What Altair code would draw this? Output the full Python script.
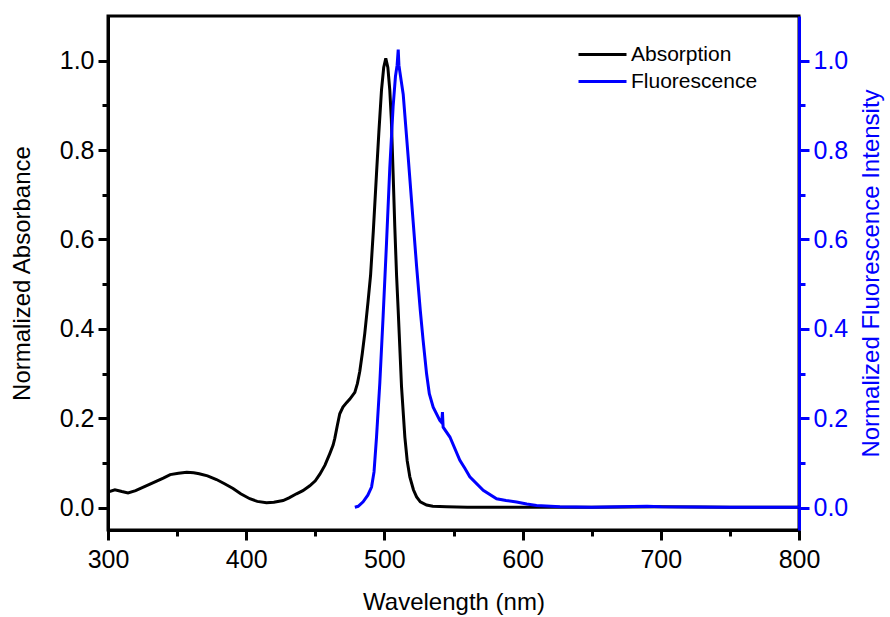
import altair as alt
import pandas as pd

# ---------------- data ----------------
wavelength_abs = [300, 301, 305, 310, 314.5, 320, 330, 340, 345, 351, 357, 362, 366, 372,
                  378.5, 384, 390.5, 396, 402.6, 408, 414.7, 420, 426.7, 431, 436.4, 441,
                  446, 450, 453.3, 457, 460.5, 462.9, 464.1, 466, 467.7, 470, 472.6, 475,
                  478.6, 480.5, 482.2, 484, 485.8, 488.2, 490, 492, 494.3, 496, 497.9,
                  499.5, 501, 502.5, 503.9, 505, 506.3, 507.5, 508.8, 510, 512.4, 514.8,
                  516.5, 518.4, 521, 523.3, 526, 530.5, 535, 545, 560, 580, 600, 650, 700,
                  750, 800]
absorbance = [0.033, 0.036, 0.040, 0.036, 0.033, 0.038, 0.052, 0.066, 0.074, 0.077, 0.079,
              0.078, 0.076, 0.071, 0.063, 0.054, 0.043, 0.031, 0.020, 0.014, 0.011, 0.012,
              0.016, 0.022, 0.031, 0.038, 0.049, 0.060, 0.075, 0.095, 0.121, 0.140, 0.155,
              0.185, 0.210, 0.225, 0.235, 0.243, 0.258, 0.278, 0.305, 0.345, 0.390, 0.462,
              0.520, 0.620, 0.748, 0.840, 0.934, 0.985, 1.005, 0.985, 0.934, 0.870, 0.748,
              0.630, 0.520, 0.440, 0.270, 0.158, 0.105, 0.069, 0.040, 0.024, 0.013, 0.006,
              0.003, 0.002, 0.001, 0.001, 0.001, 0.001, 0.002, 0.001, 0.001]

wavelength_fl = [478.6, 481, 484.6, 488, 490.7, 492.5, 494.3, 496.7, 499.1, 501.5, 503.9,
                 506.3, 508, 509.2, 510, 510.5, 511.2, 513.6, 517.2, 520.8, 523.3, 526, 528,
                 530.5, 532.5, 535.3, 540.1, 541.5, 542, 542.5, 547.4, 554.6, 558.2, 561.8,
                 571.5, 581.2, 588, 595.6, 603, 610.1, 627, 650, 690, 700, 750, 800]
fluorescence = [0.001, 0.003, 0.013, 0.028, 0.046, 0.080, 0.158, 0.280, 0.430, 0.590, 0.760,
                0.897, 0.965, 0.990, 1.025, 0.990, 0.975, 0.925, 0.785, 0.640, 0.540, 0.440,
                0.375, 0.300, 0.255, 0.225, 0.195, 0.190, 0.214, 0.180, 0.158, 0.106, 0.088,
                0.069, 0.039, 0.020, 0.016, 0.0125, 0.008, 0.005, 0.002, 0.001, 0.003, 0.002,
                0.001, 0.001]

series_names = ["Absorption", "Fluorescence"]
series_colors = ["#000000", "#0000FF"]
x_ticks = [300, 350, 400, 450, 500, 550, 600, 650, 700, 750, 800]
y_ticks = [0.0, 0.1, 0.2, 0.3, 0.4, 0.5, 0.6, 0.7, 0.8, 0.9, 1.0]

FONT = "Liberation Sans"
BLUE = "#0000FF"

df_abs = pd.DataFrame({"wavelength": wavelength_abs, "value": absorbance,
                       "series": series_names[0]})
df_fl = pd.DataFrame({"wavelength": wavelength_fl, "value": fluorescence,
                      "series": series_names[1]})

x_enc = alt.X(
    "wavelength:Q",
    scale=alt.Scale(domain=[300, 800], nice=False, zero=False),
    axis=alt.Axis(
        title="Wavelength (nm)",
        values=x_ticks,
        labelExpr="datum.value % 100 == 0 ? datum.label : ''",
        tickSize={"condition": {"test": "datum.value % 100 == 0", "value": 10}, "value": 6},
        labelFlush=False,
        labelOverlap=False,
        labelPadding=7,
        titlePadding=18,
    ),
)

major_y = "round(datum.value * 10) % 2 == 0"
y_label_expr = f"{major_y} ? format(datum.value, '.1f') : ''"
y_scale = alt.Scale(domain=[-0.05, 1.1], nice=False, zero=False)

color_enc = alt.Color(
    "series:N",
    scale=alt.Scale(domain=series_names, range=series_colors),
    legend=alt.Legend(
        title=None,
        orient="none",
        legendX=484,
        legendY=28,
        symbolType="M-4,0H4",
        symbolSize=144,
        symbolStrokeWidth=3,
        labelFont=FONT,
        labelFontSize=21,
        labelColor="black",
        labelOffset=18,
        rowPadding=5,
        padding=0,
    ),
)

abs_line = alt.Chart(df_abs).mark_line(strokeWidth=3).encode(
    x=x_enc,
    y=alt.Y(
        "value:Q",
        scale=y_scale,
        axis=alt.Axis(
            orient="left",
            title="Normalized Absorbance",
            values=y_ticks,
            labelExpr=y_label_expr,
            tickSize={"condition": {"test": major_y, "value": 10}, "value": 6},
            labelOverlap=False,
            labelPadding=4,
            titlePadding=25,
        ),
    ),
    color=color_enc,
)

fl_line = alt.Chart(df_fl).mark_line(strokeWidth=3).encode(
    x=x_enc,
    y=alt.Y(
        "value:Q",
        scale=y_scale,
        axis=alt.Axis(
            orient="right",
            title="Normalized Fluorescence Intensity",
            values=y_ticks,
            labelExpr=y_label_expr,
            tickSize={"condition": {"test": major_y, "value": 10}, "value": 6},
            labelOverlap=False,
            labelPadding=4,
            titlePadding=12,
            titleAngle=270,
            titleBaseline="top",
            domainColor=BLUE,
            tickColor=BLUE,
            labelColor=BLUE,
            titleColor=BLUE,
        ),
    ),
    color=color_enc,
)

chart = (
    alt.layer(abs_line, fl_line)
    .resolve_scale(y="independent")
    .properties(
        width=691,
        height=514,
        autosize=alt.AutoSizeParams(type="none"),
        padding={"left": 108, "top": 16, "right": 91, "bottom": 87},
        background="white",
    )
    .configure_view(stroke="black", strokeWidth=3)
    .configure_axis(
        domainColor="black",
        domainWidth=3,
        tickColor="black",
        tickWidth=3,
        labelFont=FONT,
        labelFontSize=25,
        labelColor="black",
        titleFont=FONT,
        titleFontSize=24,
        titleFontWeight="normal",
        titleColor="black",
        grid=False,
    )
)

chart.save("out.html", embed_options={"renderer": "svg", "actions": False})
